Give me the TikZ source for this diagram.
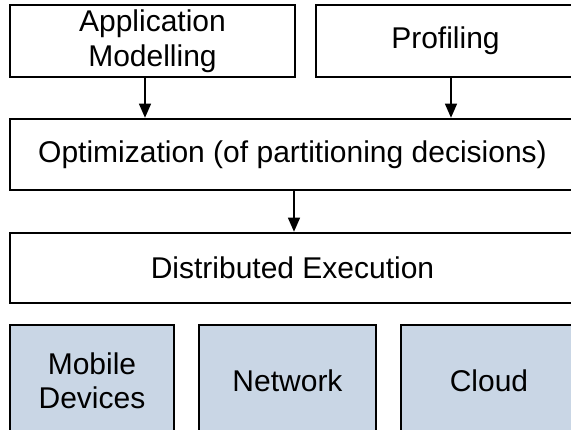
\documentclass[tikz,border=0pt]{standalone}
\usepackage{fontspec}
\setmainfont{Liberation Sans}
\usetikzlibrary{arrows.meta}
\definecolor{layerfill}{RGB}{201,214,229}
\tikzset{
  box/.style={draw=black, line width=2.6pt, fill=white, inner sep=0pt,
    align=center, font=\fontsize{30}{34.5}\selectfont},
  infra/.style={box, fill=layerfill},
  flow/.style={line width=1.3pt, -{Triangle[length=14pt,width=12pt]}}
}
\begin{document}
\begin{tikzpicture}[x=1pt,y=-1pt]
  \useasboundingbox (0,0) rectangle (571,430);
  \clip (0,0) rectangle (571,430);
  \fill[white] (0,0) rectangle (571,430);

  % input stages
  \node[box, minimum width=285pt, minimum height=72pt] (app) at (152.5,41) {Application\\Modelling};
  \node[box, minimum width=259pt, minimum height=72pt] (prof) at (445.5,41) {Profiling};

  % optimisation and execution layers
  \node[box, minimum width=565pt, minimum height=71pt] (opt) at (292.5,154.5) {Optimization (of partitioning decisions)};
  \node[box, minimum width=565pt, minimum height=70pt] (exec) at (292.5,268) {Distributed Execution};

  % infrastructure
  \node[infra, minimum width=164pt, minimum height=112pt] (mob) at (92,381) {Mobile\\Devices};
  \node[infra, minimum width=177pt, minimum height=112pt] (net) at (287.5,381) {Network};
  \node[infra, minimum width=176pt, minimum height=112pt] (cloud) at (489,381) {Cloud};

  % connectors
  \draw[flow] ([xshift=-7.5pt]app.south) -- ([xshift=-7.5pt]app.south |- opt.north);
  \draw[flow] ([xshift=5.5pt]prof.south) -- ([xshift=5.5pt]prof.south |- opt.north);
  \draw[flow] ([xshift=1.5pt]opt.south) -- ([xshift=1.5pt]opt.south |- exec.north);
\end{tikzpicture}
\end{document}
